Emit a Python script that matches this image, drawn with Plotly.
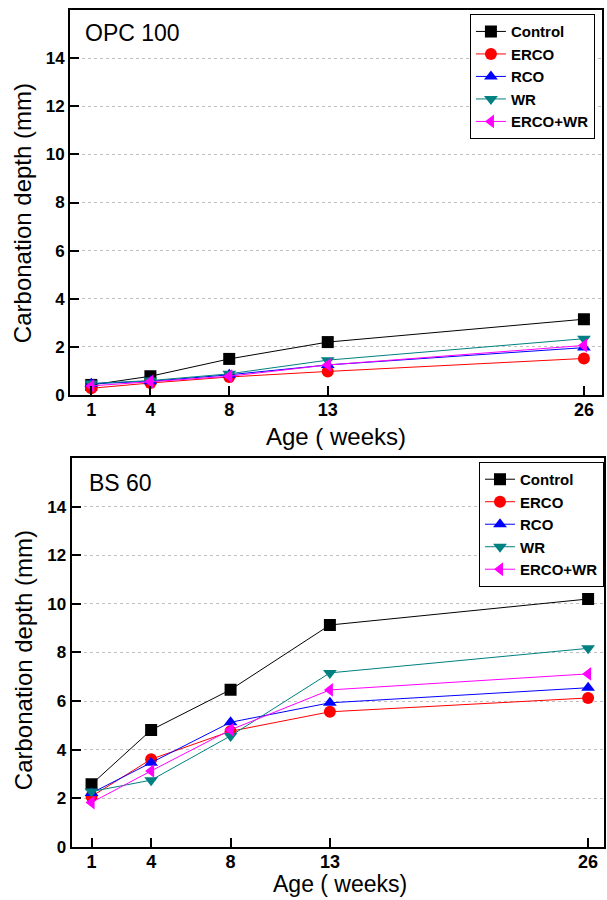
import plotly.graph_objects as go

weeks = [1, 4, 8, 13, 26]
series_names = ["Control", "ERCO", "RCO", "WR", "ERCO+WR"]

opc_control = [0.42, 0.78, 1.50, 2.20, 3.15]
opc_erco = [0.28, 0.50, 0.75, 0.98, 1.52]
opc_rco = [0.47, 0.57, 0.84, 1.25, 1.97]
opc_wr = [0.48, 0.60, 0.88, 1.45, 2.34]
opc_ercowr = [0.38, 0.56, 0.78, 1.25, 2.06]

bs_control = [2.58, 4.81, 6.47, 9.13, 10.20]
bs_erco = [2.08, 3.61, 4.76, 5.56, 6.13]
bs_rco = [2.22, 3.46, 5.13, 5.93, 6.55]
bs_wr = [2.28, 2.75, 4.57, 7.16, 8.17]
bs_ercowr = [1.83, 3.13, 4.82, 6.46, 7.12]

y_ticks = [0, 2, 4, 6, 8, 10, 12, 14]

colors = ["#000000", "#ff0000", "#0000ff", "#008080", "#ff00ff"]
symbols = ["square", "circle", "triangle-up", "triangle-down", "triangle-left"]

fig = go.Figure()

panels = [
    (opc_control, opc_erco, opc_rco, opc_wr, opc_ercowr),
    (bs_control, bs_erco, bs_rco, bs_wr, bs_ercowr),
]

for p, data in enumerate(panels):
    xa = "x" if p == 0 else "x2"
    ya = "y" if p == 0 else "y2"
    lg = "legend" if p == 0 else "legend2"
    for name, vals, c, s in zip(series_names, data, colors, symbols):
        fig.add_trace(go.Scatter(
            x=weeks, y=vals, name=name, mode="lines+markers",
            line=dict(color=c, width=1),
            marker=dict(symbol=s, size=12, color=c),
            xaxis=xa, yaxis=ya, legend=lg,
        ))

tickfont_x = dict(family="Liberation Sans", size=18, color="black", weight="bold")
tickfont_y = dict(family="Liberation Sans", size=17, color="black", weight="bold")

common_x = dict(
    tickmode="array", tickvals=weeks, ticktext=[str(w) for w in weeks],
    ticks="inside", ticklen=9, tickwidth=2, tickcolor="black",
    showline=True, linewidth=2, linecolor="black", mirror=True,
    showgrid=False, zeroline=False, tickfont=tickfont_x,
    ticklabelstandoff=-3,
)
common_y = dict(
    tickmode="array", tickvals=y_ticks, range=[0, 16],
    ticks="inside", ticklen=9, tickwidth=2, tickcolor="black",
    showline=True, linewidth=2, linecolor="black", mirror=True,
    showgrid=True, gridcolor="#c0c0c0", griddash="dot", gridwidth=1,
    zeroline=False, tickfont=tickfont_y,
)

legend_common = dict(
    xanchor="right", yanchor="top", bgcolor="white",
    bordercolor="black", borderwidth=1,
    font=dict(family="Liberation Sans", size=15, color="black", weight="bold"),
    tracegroupgap=0,
)

fig.update_layout(
    width=607, height=900,
    margin=dict(l=70, r=1, t=10, b=53),
    paper_bgcolor="white", plot_bgcolor="white",
    showlegend=True,
    xaxis=dict(domain=[0.0, 0.996], range=[-0.08, 26.91], anchor="y", **common_x),
    yaxis=dict(domain=[0.54, 1.0], anchor="x", **common_y),
    xaxis2=dict(domain=[0.003, 1.0], range=[-0.004, 26.8], anchor="y2", **common_x),
    yaxis2=dict(domain=[0.0, 0.4648], anchor="x2", **common_y),
    legend=dict(x=0.983, y=0.995, **legend_common),
    legend2=dict(x=1.0, y=0.46, **legend_common),
)

title_font = dict(family="Liberation Sans", size=24, color="black")
annots = [
    dict(text="Carbonation depth (mm)", x=-0.0877, y=0.7575, textangle=-90,
         yanchor="middle", font=title_font),
    dict(text="Carbonation depth (mm)", x=-0.0877, y=0.2234, textangle=-90,
         yanchor="middle", font=title_font),
    dict(text="Age ( weeks)", x=0.498, y=0.4910, yanchor="middle", font=title_font),
    dict(text="Age ( weeks)", x=0.5056, y=-0.0621, yanchor="bottom",
         font=dict(family="Liberation Sans", size=23, color="black")),
]
for a in annots:
    fig.add_annotation(xref="paper", yref="paper", showarrow=False,
                       xanchor="center", **a)

fig.add_annotation(text="OPC 100", xref="paper", yref="paper", x=0.0243, y=0.9725,
                   xanchor="left", yanchor="middle", showarrow=False,
                   font=dict(family="Liberation Sans", size=23, color="black"))
fig.add_annotation(text="BS 60", xref="paper", yref="paper", x=0.0317, y=0.4349,
                   xanchor="left", yanchor="middle", showarrow=False,
                   font=dict(family="Liberation Sans", size=23, color="black"))

fig.write_html("out.html")
